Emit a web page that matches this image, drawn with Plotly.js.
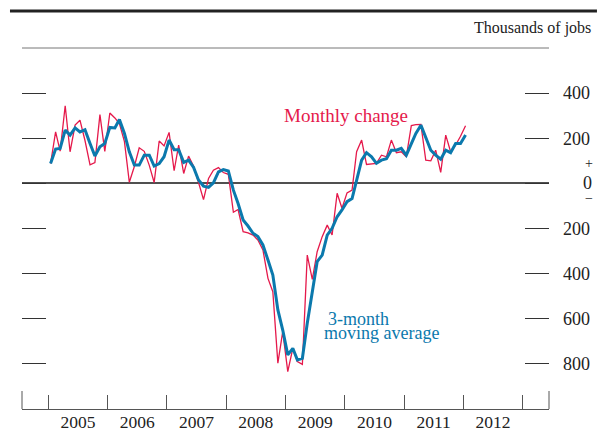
<!DOCTYPE html>
<html>
<head>
<meta charset="utf-8">
<script src="https://cdn.plot.ly/plotly-3.0.1.min.js"></script>
<style>
  html, body { margin: 0; padding: 0; background: #fff; }
  #chart { width: 597px; height: 432px; }
</style>
</head>
<body>
<div id="chart"></div>
<script>
// monthly change in payroll employment, Jan 2005 - Jan 2012 (thousands)
var firstYear = 2005;
var monthlyChange = [
    88, 228, 143, 344, 140, 258, 280, 190, 82, 92, 305, 142,
    312, 290, 265, 185, 5, 75, 158, 142, 80, 4, 188, 166,
    226, 56, 170, 44, 121, 76, 5, -72, 22, 58, 70, 48,
    40, -128, -116, -214, -219, -229, -251, -295, -421, -480, -797, -657,
    -834, -731, -790, -802, -318, -425, -303, -236, -185, -229, -44, -110,
    -42, -30, 140, 192, 84, 86, 89, 125, 118, 192, 136, 140,
    118, 256, 260, 261, 103, 100, 147, 49, 214, 140, 170, 209,
    255
];
var movingAverage = [
    88, 152, 155, 236, 214, 246, 228, 238, 177, 121, 162, 177,
    248, 246, 283, 221, 140, 81, 81, 125, 125, 77, 88, 118,
    192, 149, 149, 93, 103, 71, 15, -12, -18, 2, 51, 61,
    55, -30, -89, -162, -189, -221, -236, -273, -340, -406, -561, -650,
    -760, -731, -782, -775, -620, -473, -347, -318, -229, -199, -148, -118,
    -81, -67, 10, 103, 136, 118, 89, 103, 109, 147, 147, 155,
    125, 177, 221, 258, 200, 147, 125, 107, 147, 136, 177, 177,
    214
];
var tickValues = [-800, -600, -400, -200, 0, 200, 400];
var tickLabels = ['800', '600', '400', '200', '', '200', '400'];

var redColor = '#e5194b';
var blueColor = '#0b79ad';
var serif = 'Liberation Serif, Times New Roman, serif';

var months = [];
for (var i = 0; i < monthlyChange.length; i++) {
    var yr = firstYear + Math.floor(i / 12);
    var mo = (i % 12) + 1;
    months.push(yr + '-' + (mo < 10 ? '0' + mo : mo) + '-15');
}

var monthly = {
    x: months,
    y: monthlyChange,
    type: 'scatter',
    mode: 'lines',
    line: { color: redColor, width: 1.3 },
    hoverinfo: 'skip'
};
var average = {
    x: months,
    y: movingAverage,
    type: 'scatter',
    mode: 'lines',
    line: { color: blueColor, width: 3 },
    hoverinfo: 'skip'
};

var layout = {
    width: 597,
    height: 432,
    margin: { l: 22, r: 48, t: 48, b: 23 },
    paper_bgcolor: '#fff',
    plot_bgcolor: '#fff',
    showlegend: false,
    font: { family: serif, color: '#222' },
    xaxis: {
        type: 'date',
        range: ['2004-07-23', '2013-06-12'],
        tick0: '2005-01-01',
        dtick: 'M12',
        tickformat: '%Y',
        ticklabelmode: 'period',
        ticks: 'inside',
        ticklen: 14,
        tickwidth: 1,
        tickcolor: '#555',
        showline: true,
        linecolor: '#555',
        linewidth: 1,
        showgrid: false,
        zeroline: false,
        ticklabelstandoff: -3,
        tickfont: { family: serif, size: 17.5, color: '#222' }
    },
    yaxis: {
        range: [-1000, 600],
        side: 'right',
        tickmode: 'array',
        tickvals: tickValues,
        ticktext: tickLabels,
        ticks: 'inside',
        ticklen: 24,
        tickwidth: 1,
        tickcolor: '#333',
        mirror: 'ticks',
        showline: false,
        showgrid: false,
        zeroline: true,
        zerolinecolor: '#505050',
        zerolinewidth: 2,
        ticklabelstandoff: 13,
        tickfont: { family: serif, size: 18, color: '#222' }
    },
    shapes: [
        // thin rule along the top of the plot
        { type: 'line', xref: 'paper', yref: 'paper', x0: 0, x1: 1, y0: 1, y1: 1,
          line: { color: '#777', width: 1 } },
        // heavy header rule
        { type: 'line', xref: 'paper', yref: 'paper', x0: -0.0228, x1: 1.091, y0: 1.1025, y1: 1.1025,
          line: { color: '#222', width: 3 } },
        // end ticks of the date axis
        { type: 'line', xref: 'paper', yref: 'paper', ysizemode: 'pixel', yanchor: 0,
          x0: 0, x1: 0, y0: 0, y1: 18, line: { color: '#555', width: 1 } },
        { type: 'line', xref: 'paper', yref: 'paper', ysizemode: 'pixel', yanchor: 0,
          x0: 1, x1: 1, y0: 0, y1: 18, line: { color: '#555', width: 1 } }
    ],
    annotations: [
        { xref: 'paper', yref: 'paper', x: 1.0835, y: 1.055, xanchor: 'right', yanchor: 'middle',
          text: 'Thousands of jobs', showarrow: false, font: { family: serif, size: 16, color: '#222' } },
        { xref: 'paper', yref: 'paper', x: 0.493, y: 0.812, xanchor: 'left', yanchor: 'middle',
          text: 'Monthly change', showarrow: false, font: { family: serif, size: 19, color: redColor } },
        { xref: 'paper', yref: 'paper', x: 0.578, y: 0.25, xanchor: 'left', yanchor: 'middle', borderpad: 0,
          text: '3-month', showarrow: false, font: { family: serif, size: 18, color: blueColor } },
        { xref: 'paper', yref: 'paper', x: 0.571, y: 0.211, xanchor: 'left', yanchor: 'middle', borderpad: 0,
          text: 'moving average', showarrow: false, font: { family: serif, size: 18, color: blueColor } },
        { xref: 'paper', yref: 'paper', x: 1.0759, y: 0.68, xanchor: 'center', yanchor: 'middle', borderpad: 0,
          text: '+', showarrow: false, font: { family: serif, size: 14, color: '#222' } },
        { xref: 'paper', yref: 'paper', x: 1.0835, y: 0.625, xanchor: 'right', yanchor: 'middle', borderpad: 0,
          text: '0', showarrow: false, font: { family: serif, size: 18, color: '#222' } },
        { xref: 'paper', yref: 'paper', x: 1.0759, y: 0.584, xanchor: 'center', yanchor: 'middle', borderpad: 0,
          text: '\u2212', showarrow: false, font: { family: serif, size: 14, color: '#222' } }
    ]
};

Plotly.newPlot('chart', [monthly, average], layout, { displayModeBar: false, staticPlot: true });
</script>
</body>
</html>
